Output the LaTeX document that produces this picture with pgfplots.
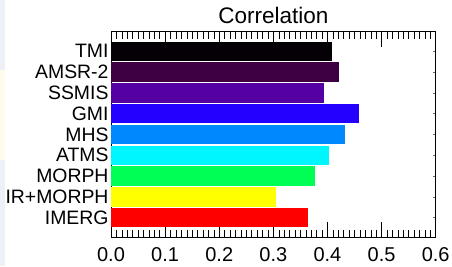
\documentclass[border=0pt]{standalone}
\usepackage{pgfplots}
\pgfplotsset{compat=1.18}
\usepackage{fontspec}
\setmainfont{Liberation Sans}
\definecolor{cTMI}{HTML}{050005}
\definecolor{cAMSR}{HTML}{3F0042}
\definecolor{cSSMIS}{HTML}{5500A2}
\definecolor{cGMI}{HTML}{2400FF}
\definecolor{cMHS}{HTML}{0088FF}
\definecolor{cATMS}{HTML}{00F6FF}
\definecolor{cMORPH}{HTML}{00FF55}
\definecolor{cIR}{HTML}{FFFF00}
\definecolor{cIMERG}{HTML}{FF0000}
\begin{document}
\begin{tikzpicture}
\useasboundingbox (0pt,0pt) rectangle (452pt,266pt);
\fill[color={rgb,255:red,238;green,240;blue,248}] (0pt,0pt) rectangle (5pt,266pt);
\fill[color={rgb,255:red,254;green,251;blue,236}] (0pt,106pt) rectangle (5pt,196pt);
\begin{axis}[
  at={(111pt,28.7pt)}, anchor=south west,
  width=324.7pt, height=205.6pt, scale only axis,
  xmin=0, xmax=0.6,
  ymin=0.06, ymax=9.94, y dir=reverse,
  xbar, bar shift=0pt, bar width=0.93,
  xtick={0,0.1,0.2,0.3,0.4,0.5,0.6},
  xticklabels={0.0,0.1,0.2,0.3,0.4,0.5,0.6},
  minor x tick num=9,
  ytick={1,...,9},
  yticklabels={TMI,AMSR-2,SSMIS,GMI,MHS,ATMS,MORPH,IR+MORPH,IMERG},
  tick align=inside,
  xtick pos=both, ytick pos=both,
  x tick style={black, line width=0.5pt},
  y tick style={black!60, line width=0.5pt},
  major x tick style={/pgfplots/major tick length=15pt},
  minor x tick style={/pgfplots/minor tick length=7pt},
  major y tick style={/pgfplots/major tick length=3pt},
  axis line style={black, line width=0.6pt},
  xticklabel style={font=\fontsize{20}{22}\selectfont, yshift=-7pt},
  yticklabel style={font=\fontsize{19.4}{21}\selectfont, xshift=1pt},
  /pgf/number format/assume math mode=true,
  title={Correlation},
  title style={font=\fontsize{22.5}{24}\selectfont, yshift=-1.5pt},
  clip=true,
]
\addplot[fill=cTMI, draw=none] coordinates {(0.408,1)};
\addplot[fill=cAMSR, draw=none] coordinates {(0.421,2)};
\addplot[fill=cSSMIS, draw=none] coordinates {(0.394,3)};
\addplot[fill=cGMI, draw=none] coordinates {(0.458,4)};
\addplot[fill=cMHS, draw=none] coordinates {(0.433,5)};
\addplot[fill=cATMS, draw=none] coordinates {(0.403,6)};
\addplot[fill=cMORPH, draw=none] coordinates {(0.377,7)};
\addplot[fill=cIR, draw=none] coordinates {(0.304,8)};
\addplot[fill=cIMERG, draw=none] coordinates {(0.364,9)};
\end{axis}
\end{tikzpicture}
\end{document}
